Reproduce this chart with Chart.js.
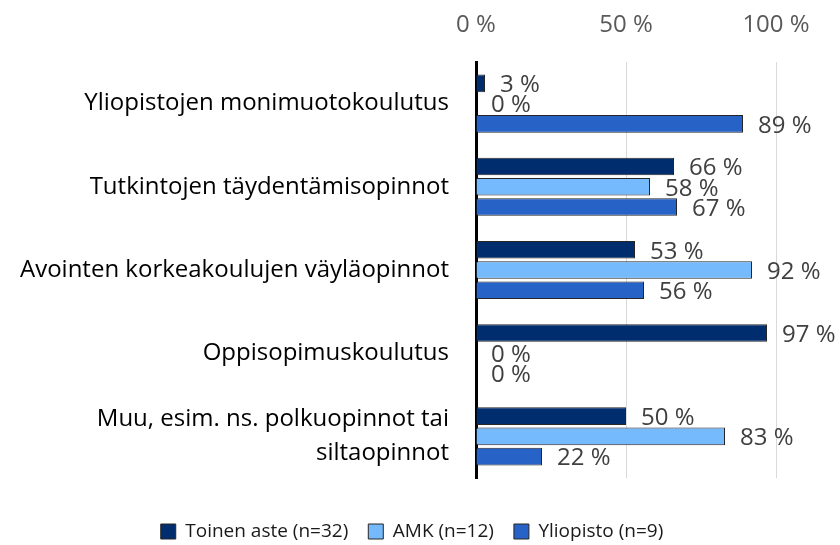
<!DOCTYPE html>
<html>
<head>
<meta charset="utf-8">
<script src="https://cdn.jsdelivr.net/npm/chart.js@4.4.0/dist/chart.umd.min.js"></script>
<style>
  html, body { margin: 0; padding: 0; background: #fff; }
  #wrap { width: 840px; height: 545px; }
</style>
</head>
<body>
<div id="wrap"><canvas id="kaavio"></canvas></div>
<script>
// Koulutusmuodot
const kategoriat = [
  'Yliopistojen monimuotokoulutus',
  'Tutkintojen täydentämisopinnot',
  'Avointen korkeakoulujen väyläopinnot',
  'Oppisopimuskoulutus',
  ['Muu, esim. ns. polkuopinnot tai', 'siltaopinnot']
];
const toinenAste = [3, 66, 53, 97, 50];
const amk = [0, 58, 92, 0, 83];
const yliopisto = [89, 67, 56, 0, 22];
const sarjat = ['Toinen aste (n=32)', 'AMK (n=12)', 'Yliopisto (n=9)'];
const akseliTikit = [0, 50, 100];

const fontti = "'Open Sans', sans-serif";

// arvot palkkien perään
const arvoTekstit = {
  id: 'arvoTekstit',
  afterDatasetsDraw(chart) {
    const ctx = chart.ctx;
    ctx.save();
    ctx.font = '24px ' + fontti;
    ctx.fillStyle = '#404040';
    ctx.textAlign = 'left';
    ctx.textBaseline = 'middle';
    chart.data.datasets.forEach((ds, i) => {
      const meta = chart.getDatasetMeta(i);
      meta.data.forEach((bar, j) => {
        ctx.fillText(ds.data[j] + ' %', bar.x + 15, bar.y + 2);
      });
    });
    ctx.restore();
  }
};

new Chart(document.getElementById('kaavio'), {
  type: 'bar',
  data: {
    labels: kategoriat,
    datasets: [
      { label: sarjat[0], data: toinenAste, backgroundColor: '#002D6E' },
      { label: sarjat[1], data: amk, backgroundColor: '#75BAFD' },
      { label: sarjat[2], data: yliopisto, backgroundColor: '#2762C6' }
    ].map(d => Object.assign(d, {
      borderColor: '#262626',
      borderWidth: 1,
      categoryPercentage: 0.73,
      barPercentage: 0.87
    }))
  },
  options: {
    indexAxis: 'y',
    responsive: true,
    maintainAspectRatio: false,
    animation: false,
    layout: { padding: { left: 0, right: 16, top: 0, bottom: -6 } },
    plugins: {
      legend: {
        position: 'bottom',
        labels: {
          color: '#1a1a1a',
          font: { family: fontti, size: 19 },
          boxWidth: 15,
          boxHeight: 15,
          padding: 20
        }
      },
      tooltip: { enabled: false }
    },
    scales: {
      x: {
        position: 'top',
        min: 0,
        max: 100,
        afterBuildTicks: s => { s.ticks = akseliTikit.map(v => ({ value: v })); },
        afterFit: s => { s.height = 62; },
        ticks: {
          color: '#595959',
          font: { family: fontti, size: 24 },
          padding: 22,
          callback: v => v + ' %'
        },
        grid: { color: '#d9d9d9', lineWidth: 1, drawTicks: false },
        border: { display: false }
      },
      // tyhjä väli kuvaajan ja selitteen välissä
      vali: {
        axis: 'x',
        position: 'bottom',
        min: 0,
        max: 100,
        afterFit: s => { s.height = 24; },
        ticks: { display: false },
        grid: { display: false, drawTicks: false },
        border: { display: false }
      },
      // tyhjä tila oikealla arvotekstejä varten
      oikea: {
        axis: 'y',
        type: 'category',
        position: 'right',
        afterFit: s => { s.width = 48; },
        ticks: { display: false },
        grid: { display: false, drawTicks: false },
        border: { display: false }
      },
      y: {
        afterFit: s => { s.width = 476; },
        ticks: {
          color: '#000',
          font: { family: fontti, size: 24, lineHeight: 1.4 },
          padding: 27
        },
        grid: { display: false, drawTicks: false },
        border: { color: '#000', width: 3 }
      }
    }
  },
  plugins: [arvoTekstit]
});
</script>
</body>
</html>
